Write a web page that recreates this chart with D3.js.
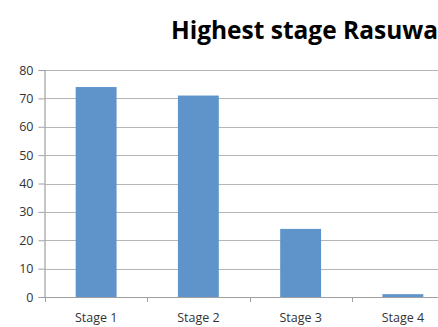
<!DOCTYPE html>
<html>
<head>
<meta charset="utf-8">
<script src="https://cdn.jsdelivr.net/npm/d3@7/dist/d3.min.js"></script>
<style>
  html, body { margin: 0; padding: 0; background: #fff; overflow: hidden; }
  svg { display: block; }
</style>
</head>
<body>
<div id="chart"></div>
<script>
// Highest stage reached, Rasuwa district
const title = "Highest stage Rasuwa";
const categories = ["Stage 1", "Stage 2", "Stage 3", "Stage 4"];
const values = [74, 71, 24, 1];
const yTicks = [0, 10, 20, 30, 40, 50, 60, 70, 80];

const W = 438, H = 327;
const plot = { left: 45, right: 454, top: 70, bottom: 297 };
const font = "'Open Sans', Lato, 'Liberation Sans', sans-serif";

const svg = d3.select("#chart").append("svg")
  .attr("width", W).attr("height", H);

const x = d3.scaleBand()
  .domain(categories)
  .range([plot.left, plot.right])
  .paddingInner(0.6)
  .paddingOuter(0.3);

const y = d3.scaleLinear()
  .domain([0, 80])
  .range([plot.bottom, plot.top]);

// horizontal gridlines
svg.append("g")
  .selectAll("line")
  .data(yTicks.filter(d => d > 0))
  .join("line")
  .attr("x1", plot.left).attr("x2", plot.right)
  .attr("y1", d => Math.round(y(d)) + 0.5)
  .attr("y2", d => Math.round(y(d)) + 0.5)
  .attr("stroke", "#b5b5b5")
  .attr("stroke-width", 1.2);

// bars
svg.append("g")
  .selectAll("rect")
  .data(values)
  .join("rect")
  .attr("x", (d, i) => x(categories[i]))
  .attr("width", x.bandwidth())
  .attr("y", d => y(d))
  .attr("height", d => y(0) - y(d))
  .attr("fill", "#5f94cb");

// y axis
const yAxis = d3.axisLeft(y)
  .tickValues(yTicks)
  .tickSize(6)
  .tickPadding(5);
const gy = svg.append("g")
  .attr("transform", `translate(${plot.left - 0.5},0)`)
  .call(yAxis);
gy.select(".domain").attr("stroke", "#a0a0a0").attr("stroke-width", 1.2);
gy.selectAll(".tick line").attr("stroke", "#a0a0a0");
gy.selectAll(".tick text")
  .attr("fill", "#333")
  .style("font-family", font)
  .style("font-size", "12.5px");

// x axis: baseline with category separators
const step = x.step();
const bounds = d3.range(categories.length + 1).map(i => plot.left + i * step);
svg.append("line")
  .attr("x1", plot.left).attr("x2", plot.right)
  .attr("y1", plot.bottom + 0.5).attr("y2", plot.bottom + 0.5)
  .attr("stroke", "#a0a0a0").attr("stroke-width", 1.2);
svg.append("g")
  .selectAll("line")
  .data(bounds)
  .join("line")
  .attr("x1", d => Math.round(d) + 0.5).attr("x2", d => Math.round(d) + 0.5)
  .attr("y1", plot.bottom).attr("y2", plot.bottom + 5)
  .attr("stroke", "#a0a0a0");

svg.append("g")
  .selectAll("text")
  .data(categories)
  .join("text")
  .attr("x", d => x(d) + x.bandwidth() / 2)
  .attr("y", 322)
  .attr("text-anchor", "middle")
  .attr("fill", "#333")
  .style("font-family", font)
  .style("font-size", "12.5px")
  .text(d => d);

// title
svg.append("text")
  .attr("x", 304.5)
  .attr("y", 39)
  .attr("text-anchor", "middle")
  .attr("fill", "#000")
  .style("font-family", font)
  .style("font-weight", "bold")
  .style("font-size", "24.5px")
  .text(title);
</script>
</body>
</html>
